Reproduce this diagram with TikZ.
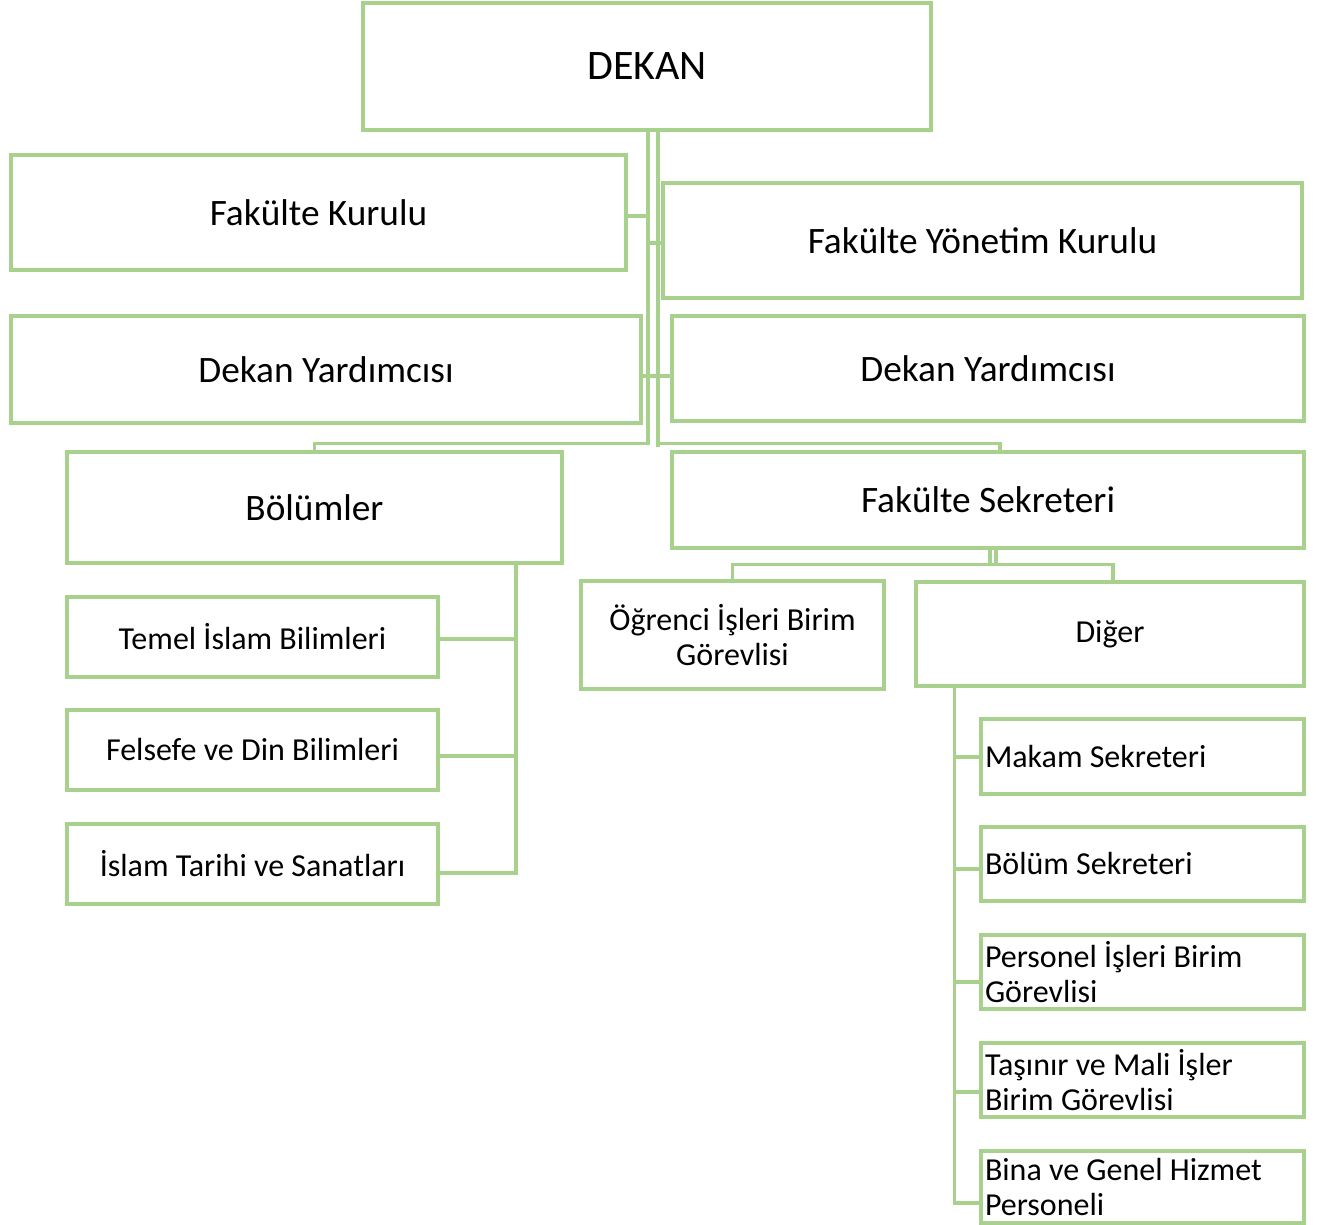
\documentclass[tikz,border=0pt]{standalone}
\usepackage{fontspec}
\setmainfont{Carlito}
\usetikzlibrary{calc}
\definecolor{grn}{HTML}{A9D18E}
\begin{document}
\begin{tikzpicture}[x=1pt,y=-1pt,
  box/.style={draw=grn, line width=3.5pt, inner sep=0pt, align=flush center, text=black},
  big/.style={font=\fontsize{37.3}{45}\selectfont},
  small/.style={font=\fontsize{32}{35}\selectfont},
  lbox/.style={box, small, align=flush left, inner sep=4pt, text width=315pt, minimum width=323pt},
  conn/.style={draw=grn, line width=3.5pt}]
\useasboundingbox (0,0) rectangle (1320,1225);
% level 1
\node[box, font=\fontsize{42}{50}\selectfont, minimum width=568pt, minimum height=127pt] (dekan) at (647,66.5) {DEKAN};
\node[box, big, minimum width=615pt, minimum height=115pt] (fk) at (318.5,212.5) {Fakülte Kurulu};
\node[box, big, minimum width=639pt, minimum height=115pt] (fyk) at (982.5,240.5) {Fakülte Yönetim Kurulu};
\node[box, big, minimum width=630pt, minimum height=107pt] (dyl) at (326,369.5) {Dekan Yardımcısı};
\node[box, big, minimum width=632pt, minimum height=105pt] (dyr) at (988,368.5) {Dekan Yardımcısı};
\node[box, big, minimum width=495pt, minimum height=111pt] (bol) at (314.5,507.5) {Bölümler};
\node[box, big, minimum width=632pt, minimum height=96pt] (fs) at (988,500) {Fakülte Sekreteri};
% Bölümler children
\node[box, small, minimum width=371pt, minimum height=80pt] (t1) at (252.5,637) {Temel İslam Bilimleri};
\node[box, small, minimum width=371pt, minimum height=80pt] (t2) at (252.5,750) {Felsefe ve Din Bilimleri};
\node[box, small, minimum width=371pt, minimum height=80pt] (t3) at (252.5,864) {İslam Tarihi ve Sanatları};
% Sekreter children
\node[box, small, minimum width=303pt, minimum height=108pt] (ogr) at (732.5,635) {Öğrenci İşleri Birim\\Görevlisi};
\node[box, small, minimum width=388pt, minimum height=104pt] (dig) at (1110,634) {Diğer};
% Diğer children
\node[lbox, minimum height=75pt] (r1) at (1142.5,756.5) {Makam Sekreteri};
\node[lbox, minimum height=74pt] (r2) at (1142.5,864) {Bölüm Sekreteri};
\node[lbox, minimum height=74pt] (r3) at (1142.5,972) {Personel İşleri Birim\\Görevlisi};
\node[lbox, minimum height=74pt] (r4) at (1142.5,1080) {Taşınır ve Mali İşler\\Birim Görevlisi};
\node[lbox, minimum height=72pt] (r5) at (1142.5,1187) {Bina ve Genel Hizmet\\Personeli};
% DEKAN connectors
\coordinate (dA) at ($(dekan.south)+(1,0)$);
\coordinate (dB) at ($(dekan.south)+(11,0)$);
\draw[conn] (dA) |- ($(fk.east)+(0,3.5)$);
\draw[conn] (dA) |- ($(fyk.west)+(0,2.5)$);
\draw[conn] (dA) |- ($(dyl.east)+(0,6.5)$);
\draw[conn] (dA) |- ($(dyr.west)+(0,7.5)$);
\draw[conn] (dB) |- ($(dyl.east)+(0,6.5)$);
\draw[conn] (dA) |- ($(bol.north)+(0,-7)$) -- (bol.north);
\draw[conn] (dB) |- ($(fs.north)+(12,-7)$) -- ($(fs.north)+(12,0)$);
\draw[conn] (dB) -- ($(dB)+(0,315)$);
% Fakülte Sekreteri connectors
\coordinate (sA) at ($(fs.south)+(2,0)$);
\coordinate (sB) at ($(fs.south)+(8,0)$);
\draw[conn] (sA) |- ($(ogr.north)+(0,-15)$) -- (ogr.north);
\draw[conn] (sB) |- ($(dig.north)+(3,-16)$) -- ($(dig.north)+(3,0)$);
\draw[conn] (sA) |- ($(dig.north)+(3,-16)$);
\draw[conn] (sB) |- ($(ogr.north)+(0,-15)$);
% Bölümler connectors
\coordinate (bt) at ($(bol.south east)+(-48,0)$);
\draw[conn] (bt) |- ($(t1.east)+(0,2)$);
\draw[conn] (bt) |- ($(t2.east)+(0,6)$);
\draw[conn] (bt) |- ($(t3.east)+(0,9)$);
% Diğer connectors
\coordinate (gt) at ($(dig.south west)+(40,0)$);
\draw[conn] (gt) |- ($(r1.west)+(0,0.5)$);
\draw[conn] (gt) |- ($(r2.west)+(0,5)$);
\draw[conn] (gt) |- ($(r3.west)+(0,10)$);
\draw[conn] (gt) |- ($(r4.west)+(0,12)$);
\draw[conn] (gt) |- ($(r5.west)+(0,16)$);
\end{tikzpicture}
\end{document}
